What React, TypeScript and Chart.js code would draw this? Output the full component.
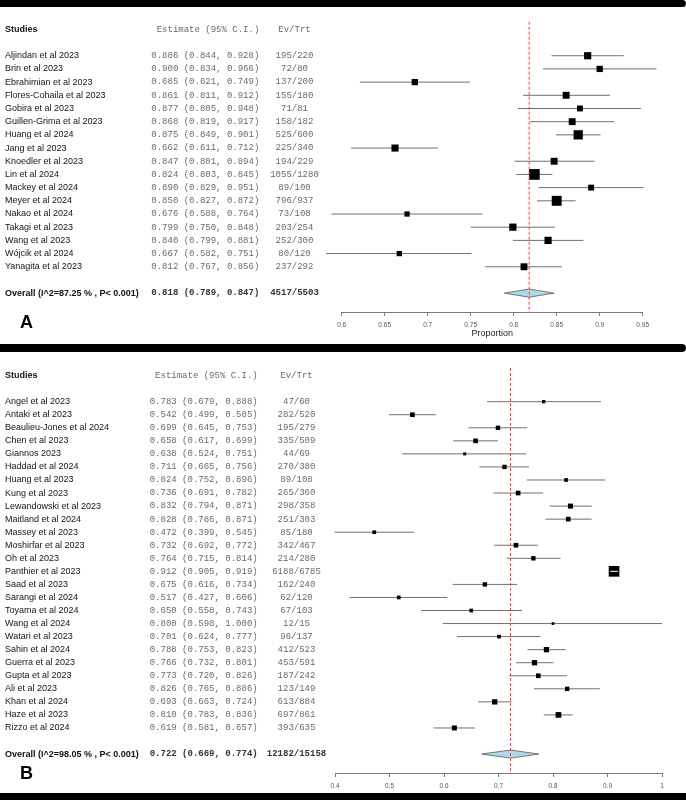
import React, { useEffect, useRef } from 'react';
import { Chart, registerables } from 'chart.js';

Chart.register(...registerables);

// ---------------- Panel A data ----------------
const STUDIES_A = [
  'Aljindan et al 2023', 'Brin et al 2023', 'Ebrahimian et al 2023', 'Flores-Cohaila et al 2023',
  'Gobira et al 2023', 'Guillen-Grima et al 2023', 'Huang et al 2024', 'Jang et al 2023',
  'Knoedler et al 2023', 'Lin et al 2024', 'Mackey et al 2024', 'Meyer et al 2024',
  'Nakao et al 2024', 'Takagi et al 2023', 'Wang et al 2023', 'Wójcik et al 2024', 'Yanagita et al 2023',
];
const EST_A = [0.886, 0.900, 0.685, 0.861, 0.877, 0.868, 0.875, 0.662, 0.847, 0.824, 0.890, 0.850, 0.676, 0.799, 0.840, 0.667, 0.812];
const LO_A = [0.844, 0.834, 0.621, 0.811, 0.805, 0.819, 0.849, 0.611, 0.801, 0.803, 0.829, 0.827, 0.588, 0.750, 0.799, 0.582, 0.767];
const HI_A = [0.928, 0.966, 0.749, 0.912, 0.948, 0.917, 0.901, 0.712, 0.894, 0.845, 0.951, 0.872, 0.764, 0.848, 0.881, 0.751, 0.856];
const EV_A = [195, 72, 137, 155, 71, 158, 525, 225, 194, 1055, 89, 796, 73, 203, 252, 80, 237];
const TRT_A = [220, 80, 200, 180, 81, 182, 600, 340, 229, 1280, 100, 937, 108, 254, 300, 120, 292];
const WEIGHT_A = [5.8, 4.4, 4.4, 5.3, 3.9, 5.3, 9.5, 5.6, 5.3, 12.8, 3.9, 10.9, 3.1, 5.8, 5.8, 3.1, 5.3];
const OVERALL_LABEL_A = 'Overall (I^2=87.25 % , P< 0.001)';
const OVERALL_A = [0.818, 0.789, 0.847]; // estimate, lower, upper
const OVERALL_EVTRT_A = [4517, 5503];
const TICKS_A = [0.6, 0.65, 0.7, 0.75, 0.8, 0.85, 0.9, 0.95];

// ---------------- Panel B data ----------------
const STUDIES_B = [
  'Angel et al 2023', 'Antaki et al 2023', 'Beaulieu-Jones et al 2024', 'Chen et al 2023',
  'Giannos 2023', 'Haddad et al 2024', 'Huang et al 2023', 'Kung et al 2023',
  'Lewandowski et al 2023', 'Maitland et al 2024', 'Massey et al 2023', 'Moshirfar et al 2023',
  'Oh et al 2023', 'Panthier et al 2023', 'Saad et al 2023', 'Sarangi et al 2024',
  'Toyama et al 2024', 'Wang et al 2024', 'Watari et al 2023', 'Sahin et al 2024',
  'Guerra et al 2023', 'Gupta et al 2023', 'Ali et al 2023', 'Khan et al 2024',
  'Haze et al 2023', 'Rizzo et al 2024',
];
const EST_B = [0.783, 0.542, 0.699, 0.658, 0.638, 0.711, 0.824, 0.736, 0.832, 0.828, 0.472, 0.732, 0.764, 0.912, 0.675, 0.517, 0.650, 0.800, 0.701, 0.788, 0.766, 0.773, 0.826, 0.693, 0.810, 0.619];
const LO_B = [0.679, 0.499, 0.645, 0.617, 0.524, 0.665, 0.752, 0.691, 0.794, 0.786, 0.399, 0.692, 0.715, 0.905, 0.616, 0.427, 0.558, 0.598, 0.624, 0.753, 0.732, 0.720, 0.765, 0.663, 0.783, 0.581];
const HI_B = [0.888, 0.585, 0.753, 0.699, 0.751, 0.756, 0.896, 0.782, 0.871, 0.871, 0.545, 0.772, 0.814, 0.919, 0.734, 0.606, 0.743, 1.000, 0.777, 0.823, 0.801, 0.826, 0.886, 0.724, 0.836, 0.657];
const EV_B = [47, 282, 195, 335, 44, 270, 89, 265, 298, 251, 85, 342, 214, 6188, 162, 62, 67, 12, 96, 412, 453, 187, 123, 613, 697, 393];
const TRT_B = [60, 520, 279, 509, 69, 380, 108, 360, 358, 303, 180, 467, 280, 6785, 240, 120, 103, 15, 137, 523, 591, 242, 149, 884, 861, 635];
const WEIGHT_B = [1.8, 3.6, 3.2, 3.6, 1.5, 3.2, 2.3, 3.6, 4.2, 3.6, 2.3, 3.6, 3.2, 18.9, 3.2, 2.3, 2.3, 1.2, 2.3, 4.7, 4.7, 3.6, 3.2, 4.7, 5.4, 4.2];
const OVERALL_LABEL_B = 'Overall (I^2=98.05 % , P< 0.001)';
const OVERALL_B = [0.722, 0.669, 0.774];
const OVERALL_EVTRT_B = [12182, 15158];
const TICKS_B = [0.4, 0.5, 0.6, 0.7, 0.8, 0.9, 1];

// ---------------- styles ----------------
const SANS = '"Liberation Sans", Arial, sans-serif';
const MONO = '"Liberation Mono", "Courier New", monospace';
const GRAY_TEXT = '#6a6a6a';
const NAME_COLOR = '#141414';
const CI_COLOR = '#6f6f6f';
const AXIS_COLOR = '#7a7a7a';

type Panel = {
  letter: string;
  names: string[]; est: number[]; lo: number[]; hi: number[]; ev: number[]; trt: number[]; weights: number[];
  overallLabel: string; overall: number[]; overallEvTrt: number[]; ticks: number[];
  boxScale: number; yMin: number; yMax: number;
  padLeft: number; padRight: number; padTop: number; axisHeight: number;
  estRight: number; evCenter: number; letterY: number; axisTitle: string;
};

const fmt = (v: number) => v.toFixed(3);

function textPlugin(p: Panel) {
  return {
    id: 'forestText' + p.letter,
    afterDraw(chart: any) {
      const { ctx } = chart;
      const ys = chart.scales.y;
      const n = p.names.length;
      ctx.save();
      ctx.textBaseline = 'middle';
      // header
      const yh = ys.getPixelForValue(-2);
      ctx.font = `bold 9px ${SANS}`;
      ctx.fillStyle = NAME_COLOR;
      ctx.textAlign = 'left';
      ctx.fillText('Studies', 5, yh);
      ctx.font = `9px ${MONO}`;
      ctx.fillStyle = GRAY_TEXT;
      ctx.textAlign = 'right';
      ctx.fillText('Estimate (95% C.I.)', p.estRight, yh);
      ctx.textAlign = 'center';
      ctx.fillText('Ev/Trt', p.evCenter, yh);
      // rows
      p.names.forEach((name, i) => {
        const y = ys.getPixelForValue(i);
        ctx.font = `9px ${SANS}`;
        ctx.fillStyle = NAME_COLOR;
        ctx.textAlign = 'left';
        ctx.fillText(name, 5, y);
        ctx.font = `9px ${MONO}`;
        ctx.fillStyle = GRAY_TEXT;
        ctx.textAlign = 'right';
        ctx.fillText(`${fmt(p.est[i])} (${fmt(p.lo[i])}, ${fmt(p.hi[i])})`, p.estRight, y);
        ctx.textAlign = 'center';
        ctx.fillText(`${p.ev[i]}/${p.trt[i]}`, p.evCenter, y);
      });
      // overall
      const yo = ys.getPixelForValue(n + 1);
      ctx.font = `bold 9px ${SANS}`;
      ctx.fillStyle = '#111';
      ctx.textAlign = 'left';
      ctx.fillText(p.overallLabel, 5, yo);
      ctx.font = `bold 9px ${MONO}`;
      ctx.fillStyle = '#333';
      ctx.textAlign = 'right';
      ctx.fillText(`${fmt(p.overall[0])} (${fmt(p.overall[1])}, ${fmt(p.overall[2])})`, p.estRight, yo);
      ctx.textAlign = 'center';
      ctx.fillText(`${p.overallEvTrt[0]}/${p.overallEvTrt[1]}`, p.evCenter, yo);
      // panel letter
      ctx.font = `bold 18px ${SANS}`;
      ctx.fillStyle = '#000';
      ctx.textAlign = 'left';
      ctx.fillText(p.letter, 20, p.letterY);
      ctx.restore();
    },
  };
}

function buildConfig(p: Panel): any {
  const n = p.names.length;
  const sides = p.weights.map((w) => p.boxScale * Math.sqrt(w));
  const radii = sides.map((s) => s / Math.SQRT2);
  const ciData = (i: number) => [{ x: p.lo[i], y: i }, { x: p.hi[i], y: i }];
  const ciLines = p.names.map((_, i) => ({
    type: 'line', data: ciData(i), borderColor: CI_COLOR, borderWidth: 1,
    pointRadius: 0, order: 3, clip: false, fill: false,
  }));
  const ciInside = p.names.map((_, i) => ({
    type: 'line', data: ciData(i), borderWidth: 1, pointRadius: 0, order: 0, clip: false, fill: false,
    borderColor: (ctx: any) => {
      const xs = ctx.chart.scales.x;
      if (!xs) return 'rgba(0,0,0,0)';
      const w = xs.getPixelForValue(p.hi[i]) - xs.getPixelForValue(p.lo[i]);
      return w < sides[i] ? '#ffffff' : 'rgba(0,0,0,0)';
    },
  }));
  const H = 0.31;
  const yo = n + 1;
  const [oe, ol, oh] = p.overall;
  return {
    type: 'scatter',
    data: {
      datasets: [
        ...ciLines,
        {
          type: 'scatter',
          data: p.est.map((e, i) => ({ x: e, y: i })),
          pointStyle: 'rect', pointRadius: radii, pointHoverRadius: radii,
          pointBackgroundColor: '#000', pointBorderWidth: 0, order: 1, clip: false,
        },
        ...ciInside,
        {
          type: 'line',
          data: [{ x: ol, y: yo }, { x: oe, y: yo - H }, { x: oh, y: yo }, { x: oe, y: yo + H }, { x: ol, y: yo }],
          fill: 'shape', backgroundColor: '#add8e6', borderColor: '#5a5a5a', borderWidth: 0.8,
          pointRadius: 0, tension: 0, order: 2, clip: false,
        },
        {
          type: 'line',
          data: [{ x: oe, y: p.yMin }, { x: oe, y: p.yMax }],
          borderColor: '#ff3b3b', borderDash: [3, 2], borderWidth: 1, pointRadius: 0,
          order: -1, clip: false, fill: false,
        },
      ],
    },
    options: {
      responsive: false,
      animation: false,
      events: [],
      layout: { padding: { left: p.padLeft, right: p.padRight, top: p.padTop, bottom: 0 } },
      plugins: { legend: { display: false }, tooltip: { enabled: false }, title: { display: false } },
      scales: {
        x: {
          type: 'linear',
          min: p.ticks[0],
          max: p.ticks[p.ticks.length - 1],
          afterBuildTicks: (s: any) => { s.ticks = p.ticks.map((v) => ({ value: v })); },
          afterFit: (s: any) => { s.height = p.axisHeight; },
          border: { display: true, color: AXIS_COLOR, width: 1 },
          grid: { display: true, drawOnChartArea: false, drawTicks: true, tickLength: 4, color: AXIS_COLOR, lineWidth: 1 },
          ticks: {
            font: { family: SANS, size: 6.5 }, color: '#555', padding: 5, maxRotation: 0, autoSkip: false,
            callback: (v: number) => String(Number(Number(v).toFixed(2))),
          },
          title: {
            display: !!p.axisTitle, text: p.axisTitle, color: '#222',
            font: { family: SANS, size: 9 }, padding: { top: 0, bottom: 4.6 },
          },
        },
        y: { type: 'linear', display: false, min: p.yMin, max: p.yMax, reverse: true },
      },
    },
    plugins: [textPlugin(p)],
  };
}

const PANEL_A: Panel = {
  letter: 'A', names: STUDIES_A, est: EST_A, lo: LO_A, hi: HI_A, ev: EV_A, trt: TRT_A, weights: WEIGHT_A,
  overallLabel: OVERALL_LABEL_A, overall: OVERALL_A, overallEvTrt: OVERALL_EVTRT_A, ticks: TICKS_A,
  boxScale: 3.0, yMin: -2.58, yMax: 19.43,
  padLeft: 341.7, padRight: 43.3, padTop: 14.7, axisHeight: 32,
  estRight: 259.3, evCenter: 294.5, letterY: 316.5, axisTitle: 'Proportion',
};

const PANEL_B: Panel = {
  letter: 'B', names: STUDIES_B, est: EST_B, lo: LO_B, hi: HI_B, ev: EV_B, trt: TRT_B, weights: WEIGHT_B,
  overallLabel: OVERALL_LABEL_B, overall: OVERALL_B, overallEvTrt: OVERALL_EVTRT_B, ticks: TICKS_B,
  boxScale: 2.45, yMin: -2.58, yMax: 28.45,
  padLeft: 335, padRight: 24, padTop: 16, axisHeight: 20,
  estRight: 257.7, evCenter: 296.5, letterY: 422, axisTitle: '',
};

function ForestCanvas({ panel, top, height }: { panel: Panel; top: number; height: number }) {
  const ref = useRef<HTMLCanvasElement>(null);
  useEffect(() => {
    if (!ref.current) return;
    const chart = new Chart(ref.current, buildConfig(panel));
    return () => chart.destroy();
  }, [panel]);
  return (
    <canvas
      ref={ref}
      width={686}
      height={height}
      style={{ position: 'absolute', left: 0, top, width: 686, height, display: 'block' }}
    />
  );
}

const bandStyle = (top: number, height: number): React.CSSProperties => ({
  position: 'absolute', left: 0, top, width: 686, height, background: '#000',
  borderTopRightRadius: height / 2, borderBottomRightRadius: height / 2,
});

export default function App() {
  return (
    <div style={{ position: 'absolute', left: 0, top: 0, width: 686, height: 800, background: '#fff', overflow: 'hidden' }}>
      <div style={bandStyle(0, 7)} />
      <ForestCanvas panel={PANEL_A} top={7} height={337} />
      <div style={bandStyle(344, 8)} />
      <ForestCanvas panel={PANEL_B} top={352} height={441} />
      <div style={{ ...bandStyle(793, 7), borderRadius: 0 }} />
    </div>
  );
}
